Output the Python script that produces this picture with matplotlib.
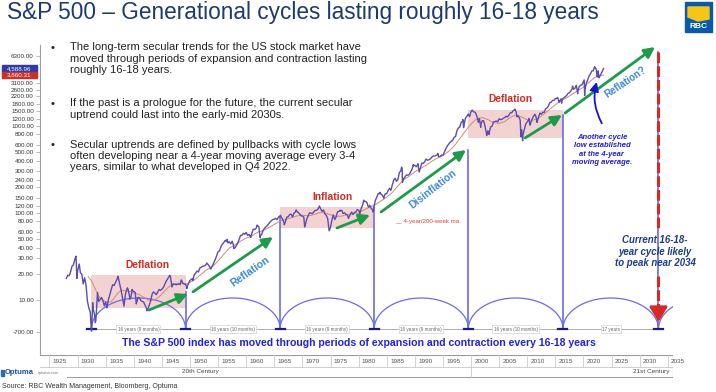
import numpy as np
import matplotlib
matplotlib.use("Agg")
import matplotlib.pyplot as plt
from matplotlib.patches import Rectangle, Polygon
from matplotlib.ticker import NullLocator
from matplotlib.transforms import blended_transform_factory

W, H = 716, 392
plt.rcParams["font.family"] = ["Liberation Sans", "DejaVu Sans"]

# ---- values ----------------------------------------------------------------
SPX_FIRST_YEAR = 1928
# S&P 500 quarter-end closes, one row per year (1928 .. 2022)
spx_quarter_close = [
    [19.3, 19.0, 21.0, 24.4], [25.3, 29.2, 28.5, 21.5], [25.1, 20.5, 19.8, 15.3],
    [18.0, 14.8, 9.7, 8.1], [7.3, 4.4, 8.0, 6.9], [5.8, 10.9, 9.6, 10.1],
    [10.7, 9.9, 8.6, 9.5], [8.5, 10.2, 11.6, 13.4], [15.0, 14.7, 16.0, 17.2],
    [18.1, 15.1, 12.9, 10.5], [8.5, 11.6, 13.2, 13.2], [10.9, 10.9, 13.0, 12.5],
    [12.2, 9.3, 10.7, 10.6], [9.9, 9.6, 9.5, 8.7], [8.0, 7.9, 8.7, 9.8],
    [11.6, 12.4, 12.0, 11.5], [12.3, 13.2, 12.9, 13.3], [13.9, 15.1, 16.4, 17.4],
    [18.5, 18.7, 14.9, 15.3], [15.2, 15.0, 15.1, 15.3], [15.0, 16.8, 15.5, 15.2],
    [15.1, 14.2, 15.6, 16.8], [17.3, 17.7, 19.5, 20.4], [21.5, 21.0, 23.3, 23.8],
    [24.4, 24.6, 25.0, 26.6], [25.3, 24.1, 23.4, 24.8], [26.9, 29.2, 32.3, 36.0],
    [36.6, 41.0, 43.7, 45.5], [48.5, 46.9, 45.3, 46.7], [44.1, 47.4, 42.4, 39.9],
    [42.1, 45.2, 50.1, 55.2], [55.4, 58.5, 56.9, 59.9], [55.3, 56.9, 53.5, 58.1],
    [65.1, 64.6, 66.7, 71.6], [69.6, 54.8, 56.3, 63.1], [66.6, 69.4, 71.7, 75.0],
    [78.9, 81.7, 84.2, 84.8], [86.8, 84.1, 89.9, 92.4], [89.2, 84.7, 76.6, 80.3],
    [90.2, 90.6, 96.7, 96.5], [90.2, 99.6, 102.7, 103.9], [101.5, 97.7, 93.1, 92.1],
    [89.6, 72.7, 84.2, 92.2], [100.3, 99.7, 98.3, 102.1], [107.2, 107.1, 110.6, 118.1],
    [111.5, 104.3, 108.4, 97.6], [94.0, 86.0, 63.5, 68.6], [83.4, 95.2, 83.9, 90.2],
    [102.8, 104.3, 105.2, 107.5], [98.4, 100.5, 96.5, 95.1], [89.2, 95.5, 102.5, 96.1],
    [101.6, 102.9, 109.3, 107.9], [102.1, 114.2, 125.5, 135.8], [136.0, 131.2, 116.2, 122.6],
    [112.0, 109.6, 120.4, 140.6], [153.0, 168.1, 166.1, 164.9], [159.2, 153.2, 166.1, 167.2],
    [180.7, 191.9, 182.1, 211.3], [238.9, 250.8, 231.3, 242.2], [291.7, 304.0, 321.8, 247.1],
    [258.9, 273.5, 271.9, 277.7], [294.9, 318.0, 349.2, 353.4], [339.9, 358.0, 306.1, 330.2],
    [375.2, 371.2, 387.9, 417.1], [403.7, 408.1, 417.8, 435.7], [451.7, 450.5, 458.9, 466.5],
    [445.8, 444.3, 462.7, 459.3], [500.7, 544.8, 584.4, 615.9], [645.5, 670.6, 687.3, 740.7],
    [757.1, 885.1, 947.3, 970.4], [1101.8, 1133.8, 1017.0, 1229.2], [1286.4, 1372.7, 1282.7, 1469.3],
    [1498.6, 1454.6, 1436.5, 1320.3], [1160.3, 1224.4, 1040.9, 1148.1], [1147.4, 989.8, 815.3, 879.8],
    [848.2, 974.5, 996.0, 1111.9], [1126.2, 1140.8, 1114.6, 1211.9], [1180.6, 1191.3, 1228.8, 1248.3],
    [1294.8, 1270.2, 1335.9, 1418.3], [1420.9, 1503.4, 1526.8, 1468.4], [1322.7, 1280.0, 1166.4, 903.3],
    [797.9, 919.3, 1057.1, 1115.1], [1169.4, 1030.7, 1141.2, 1257.6], [1325.8, 1320.6, 1131.4, 1257.6],
    [1408.5, 1362.2, 1440.7, 1426.2], [1569.2, 1606.3, 1681.6, 1848.4], [1872.3, 1960.2, 1972.3, 2058.9],
    [2067.9, 2063.1, 1920.0, 2043.9], [2059.7, 2098.9, 2168.3, 2238.8], [2362.7, 2423.4, 2519.4, 2673.6],
    [2640.9, 2718.4, 2914.0, 2506.9], [2834.4, 2941.8, 2976.7, 3230.8], [2584.6, 3100.3, 3363.0, 3756.1],
    [3972.9, 4297.5, 4307.5, 4766.2], [4530.4, 3785.4, 3585.6, 3839.5],
]
spx_2023_close = [4109.3, 4450.4]

# intra-quarter highs / lows
turn_year = [1928.0, 1929.70, 1929.87, 1930.29, 1932.45, 1932.68, 1933.15, 1933.54, 1935.21,
             1937.18, 1938.25, 1938.86, 1939.30, 1939.70, 1940.45, 1942.32, 1946.40, 1946.80,
             1948.45, 1949.45, 1950.50, 1953.70, 1956.60, 1957.80, 1960.80, 1961.95, 1962.48,
             1966.10, 1966.78, 1968.90, 1970.40, 1973.02, 1974.76, 1976.70, 1978.20, 1980.22,
             1980.90, 1982.60, 1983.80, 1984.50, 1987.65, 1987.80, 1989.75, 1990.55, 1990.78,
             1994.10, 1998.55, 1998.68, 2000.22, 2001.30, 2001.72, 2002.78, 2003.20, 2007.78,
             2008.20, 2008.88, 2009.18, 2010.30, 2010.50, 2011.33, 2011.75, 2015.38, 2015.65,
             2016.12, 2018.07, 2018.73, 2018.98, 2020.14, 2020.22, 2022.00, 2022.45, 2022.62,
             2022.78, 2023.58]
turn_value = [17.7, 31.9, 17.7, 25.9, 4.4, 9.3, 5.5, 12.2, 8.1,
              18.7, 8.5, 13.8, 10.2, 13.2, 9.0, 7.5, 19.25, 14.1,
              17.0, 13.55, 16.7, 22.7, 49.7, 39.0, 52.3, 72.6, 52.3,
              94.1, 73.2, 108.4, 69.3, 120.2, 62.3, 107.8, 86.9, 98.2,
              140.5, 102.4, 172.7, 147.8, 336.8, 224.8, 359.8, 368.9, 295.5,
              482.0, 1186.0, 957.0, 1527.0, 1103.0, 965.0, 776.0, 800.0, 1565.0,
              1273.0, 752.0, 676.0, 1217.0, 1022.0, 1363.0, 1099.0, 2130.0, 1867.0,
              1829.0, 2873.0, 2930.0, 2351.0, 3386.0, 2237.0, 4796.0, 3667.0, 4305.0,
              3577.0, 4588.96]

# 4-year / 200-week moving average
ma_year = [1931.9, 1932.5, 1933.0, 1933.5, 1934.0, 1934.5, 1935.0, 1935.5, 1936.0, 1936.5,
           1937.0, 1937.5, 1938.0, 1938.5, 1939.0, 1939.5, 1940.0, 1940.5, 1941.0, 1941.5,
           1942.0, 1942.5, 1943.0, 1943.5, 1944.0, 1944.5, 1945.0, 1945.5, 1946.0, 1946.5,
           1947.0, 1947.5, 1948.0, 1948.5, 1949.0, 1949.5, 1950, 1951, 1952, 1953, 1954,
           1955, 1956, 1957, 1958, 1959, 1960, 1961, 1962, 1963, 1964, 1965, 1966, 1967,
           1968, 1969, 1970, 1971, 1972, 1973, 1974, 1975, 1976, 1977, 1978, 1979, 1980,
           1981, 1982, 1983, 1984, 1985, 1986, 1987, 1988, 1989, 1990, 1991, 1992, 1993,
           1994, 1995, 1996, 1997, 1998, 1999, 2000, 2001, 2002, 2003, 2004, 2005, 2006,
           2007, 2008, 2009, 2010, 2011, 2012, 2013, 2014, 2015, 2016, 2017, 2018, 2019,
           2020, 2021, 2022, 2023, 2023.58]
ma_value = [18.5, 16.5, 14.0, 12.0, 10.5, 9.9, 9.6, 9.4, 9.6, 10.5,
            11.6, 12.6, 12.9, 12.7, 12.6, 12.5, 12.0, 11.8, 11.5, 11.0,
            10.6, 10.0, 9.9, 10.0, 10.3, 10.9, 11.7, 12.7, 13.7, 14.6,
            15.1, 15.4, 15.6, 15.6, 15.5, 15.4, 15.9, 17.5, 19.8, 22.3, 24.2,
            28.0, 33.5, 39.5, 43.0, 47.5, 51.5, 54.5, 60.0, 62.5, 68.0, 74.0, 80.5, 84.5,
            88.0, 92.5, 94.5, 92.5, 95.5, 100.5, 101.0, 95.0, 91.5, 92.0, 96.0, 98.0, 100.0,
            109.0, 117.0, 125.0, 138.0, 152.0, 172.0, 205.0, 240.0, 265.0, 298.0, 324.0, 354.0, 393.0,
            428.0, 458.0, 510.0, 588.0, 715.0, 875.0, 1055.0, 1205.0, 1250.0, 1185.0, 1095.0, 1070.0, 1125.0,
            1255.0, 1340.0, 1265.0, 1180.0, 1165.0, 1225.0, 1375.0, 1555.0, 1755.0, 1955.0, 2110.0, 2320.0, 2545.0,
            2790.0, 3180.0, 3620.0, 3790.0, 3860.31]

cycle_year = [1932.45, 1949.2, 1966.03, 1982.78, 1999.53, 2016.36, 2033.36]
cycle_top = [4.6, 12.4, 90, 117, 530, 1340, 7090]
cycle_label = ["16 years (9 months)", "16 years (10 months)", "16 years (9 months)",
               "16 years (9 months)", "16 years (10 months)", "17 years"]
box_low = [8.1, 67.3, 728]
box_high = [19.4, 117, 1528]

ytick_values = [4.34, 10, 20, 30, 40, 50, 60, 80, 100, 120, 150, 200, 240, 300, 400, 500,
                600, 800, 1000, 1200, 1500, 1800, 2200, 2600, 3100, 6300]
ytick_labels = ["-700.00"] + [f"{v:.2f}" for v in ytick_values[1:]]
year_ticks = list(range(1925, 2036, 5))
last_close, last_ma = 4588.96, 3860.31

C_SPX, C_MA, C_CYC = "#5a4db0", "#d08a78", "#6b6be8"
C_GREEN, C_LBLUE, C_RED = "#1e9a4a", "#3d8ad6", "#d42a22"

# ---- build series ------------------------------------------------------------
qv = np.array(spx_quarter_close).ravel()
qt = SPX_FIRST_YEAR + (np.arange(qv.size) + 1) / 4
t = np.concatenate([qt, 2023 + np.array([0.25, 0.5]), turn_year])
v = np.concatenate([qv, spx_2023_close, turn_value])
order = np.argsort(t)
t, v = t[order], v[order]


def fx(x):
    return x / W


def fy(y):
    return 1 - y / H


fig = plt.figure(figsize=(W / 100, H / 100), dpi=100)
ax = fig.add_axes([fx(40), fy(355), 633 / W, 310 / H])
ax.set_yscale("log")
ax.set_xlim(1923.31, 2035.94)
ax.set_ylim(2.332, 8531)
for s in ("top", "right", "bottom"):
    ax.spines[s].set_visible(False)
ax.spines["left"].set_color("#a0a0a0")
ax.spines["left"].set_linewidth(0.8)
ax.set_xticks([])
ax.yaxis.set_minor_locator(NullLocator())
ax.set_yticks(ytick_values)
ax.set_yticklabels(ytick_labels)
ax.tick_params(axis="y", labelsize=4.5, labelcolor="#333333", color="#a0a0a0",
               length=3, width=0.5, pad=1.5)

# pink phase boxes
for i, (lo, hi) in enumerate(zip(box_low, box_high)):
    x0, x1 = cycle_year[2 * i], cycle_year[2 * i + 1]
    ax.add_patch(Rectangle((x0, lo), x1 - x0, hi - lo, facecolor="#f3d2d2",
                           edgecolor="none", zorder=1))

# cycle lines, arcs and labels
tb = blended_transform_factory(ax.transData, ax.transAxes)
base_f, top_f = (355 - 329) / 310, (355 - 298) / 310
theta = np.linspace(0, np.pi, 80)
for i, c in enumerate(cycle_year):
    ax.plot([c, c], [4.64, cycle_top[i]], color=C_CYC, lw=1.2, zorder=2)
    nxt = cycle_year[i + 1] if i + 1 < len(cycle_year) else c + 16.75
    mid, half = (c + nxt) / 2, (nxt - c) / 2
    ax.plot(mid - half * np.cos(theta), base_f + (top_f - base_f) * np.sin(theta),
            color=C_CYC, lw=0.9, transform=tb, zorder=2)
    ax.plot([c - 0.8, c + 0.8], [base_f, base_f], color="#1a1a8c", lw=1.6,
            transform=tb, zorder=4)
    if i < len(cycle_label):
        ax.plot([c + 0.8, nxt - 0.8], [base_f, base_f], color="#b0b0b0", lw=0.7,
                transform=tb, zorder=3)
        ax.text(mid, base_f, cycle_label[i], transform=tb, ha="center", va="center",
                fontsize=3.3, color="#666666", zorder=5,
                bbox=dict(boxstyle="square,pad=0.25", fc="white", ec="#c8c8c8", lw=0.4))

# series
ax.plot(ma_year, ma_value, color=C_MA, lw=0.7, zorder=3)
ax.plot(t, v, color=C_SPX, lw=1.0, zorder=4)

# green trend arrows
for (x0, y0), (x1, y1) in [((1942.70, 7.67), (1949.64, 11.7)),
                           ((1950.53, 12.4), (1964.77, 53.0)),
                           ((1976.16, 67.3), (1982.03, 94.8)),
                           ((1983.99, 102.7), (1999.11, 530.0)),
                           ((2009.61, 728.0), (2016.19, 1337.0)),
                           ((2016.73, 1410.0), (2032.74, 8090.0))]:
    ax.annotate("", xy=(x1, y1), xytext=(x0, y0), zorder=6,
                arrowprops=dict(arrowstyle="-|>,head_length=0.7,head_width=0.35",
                                color=C_GREEN, lw=2.0, mutation_scale=9,
                                shrinkA=0, shrinkB=0))

# red dashed forecast line
xr = cycle_year[-1]
ax.plot([xr, xr], [7091, 67.3], color=C_RED, lw=2.2, dashes=(3.5, 1.0), zorder=6)
ax.plot([xr, xr], [18.9, 7.2], color=C_RED, lw=2.2, dashes=(3.5, 1.0), zorder=6)
ax.annotate("", xy=(xr, 5.6), xytext=(xr, 8.0), zorder=6,
            arrowprops=dict(arrowstyle="-|>,head_length=0.9,head_width=0.55",
                            color=C_RED, lw=2.0, mutation_scale=10, shrinkA=0, shrinkB=0))

# blue curved arrow
ax.annotate("", xy=(2022.37, 3205), xytext=(2023.28, 1074), zorder=6,
            arrowprops=dict(arrowstyle="-|>,head_length=0.6,head_width=0.3",
                            color="#1515c8", lw=1.3, mutation_scale=9,
                            connectionstyle="arc3,rad=-0.2", shrinkA=0, shrinkB=0))

# phase labels
bold = dict(fontweight="bold", ha="center", va="center", zorder=7)
ax.text(1942.35, 25.3, "Deflation", color=C_RED, fontsize=7.4, **bold)
ax.text(1975.44, 152.7, "Inflation", color=C_RED, fontsize=7.4, **bold)
ax.text(2006.94, 2044, "Deflation", color=C_RED, fontsize=7.4, **bold)
ax.text(1960.73, 21.2, "Reflation", color=C_LBLUE, fontsize=7.6, rotation=35,
        rotation_mode="anchor", **bold)
ax.text(1993.19, 187.3, "Disinflation", color=C_LBLUE, fontsize=7.5, rotation=38,
        rotation_mode="anchor", **bold)
ax.text(2027.45, 3231, "Reflation?", color=C_LBLUE, fontsize=7.0, rotation=34,
        rotation_mode="anchor", **bold)
ax.text(1986.47, 80.9, "__ 4-year/200-week ma.", color="#e0403a", fontsize=4.4,
        ha="left", va="center", zorder=7)
ax.text(2023.28, 530, "Another cycle\nlow established\nat the 4-year\nmoving average.",
        color="#1f1fd0", fontsize=5.5, fontweight="bold", style="italic",
        ha="center", va="center", linespacing=1.3, zorder=7)
ax.text(2032.74, 35.9, "Current 16-18-\nyear cycle likely\nto peak near 2034",
        color="#1e3a8a", fontsize=6.9, fontweight="bold", style="italic",
        ha="center", va="center", linespacing=1.2, zorder=7, clip_on=False)

# last-value tags on the price axis
for val, col in ((last_close, "#2f3aa8"), (last_ma, "#c8302a")):
    yp = 387 - 87 * np.log10(val)
    fig.add_artist(Rectangle((fx(2), fy(yp + 3.2)), 35 / W, 6.4 / H,
                             transform=fig.transFigure, color=col, zorder=10))
    fig.text(fx(19.5), fy(yp), f"{val:,.2f}", color="white", fontsize=4.5,
             ha="center", va="center", zorder=11)

# bottom statement inside the chart
fig.text(fx(358.6), fy(343), "The S&P 500 index has moved through periods of expansion "
         "and contraction every 16-18 years", color="#2222dd", fontsize=7.6,
         fontweight="bold", ha="center", va="center")

# date strip
axd = fig.add_axes([fx(40), fy(378), 633 / W, 23 / H])
axd.set_xlim(ax.get_xlim())
axd.set_ylim(23, 0)
axd.axis("off")
x_lo, x_hi = ax.get_xlim()
axd.plot([x_lo, x_hi], [0, 0], color="#9a9a9a", lw=0.8)
axd.plot([x_lo, x_hi], [12, 12], color="#c8c8c8", lw=0.6)
for yr in year_ticks:
    axd.plot([yr, yr], [0, 12], color="#cccccc", lw=0.6)
    axd.text(yr + 0.6, 6.3, str(yr), fontsize=4.6, color="#555555", ha="left", va="center")
axd.plot([1928.1, x_hi], [22, 22], color="#9a9a9a", lw=0.7)
axd.plot([2000, 2000], [12, 22], color="#c8c8c8", lw=0.6)
axd.plot([x_hi, x_hi], [12, 22], color="#555555", lw=0.8)
axd.text(1951.8, 17, "20th Century", fontsize=4.6, color="#444444", ha="center", va="center")
axd.text(2035.4, 17, "21st Century", fontsize=4.6, color="#444444", ha="right", va="center")

# title, bullets, source, logos
fig.text(fx(7), fy(12), "S&P 500 \u2013 Generational cycles lasting roughly 16-18 years",
         color="#1c3a70", fontsize=16.3, ha="left", va="center")
bullets = [
    (48, "The long-term secular trends for the US stock market have\n"
         "moved through periods of expansion and contraction lasting\nroughly 16-18 years."),
    (104, "If the past is a prologue for the future, the current secular\n"
          "uptrend could last into the early-mid 2030s."),
    (145, "Secular uptrends are defined by pullbacks with cycle lows\n"
          "often developing near a 4-year moving average every 3-4\n"
          "years, similar to what developed in Q4 2022."),
]
for yb, txt in bullets:
    fig.text(fx(51), fy(yb), "\u2022", fontsize=8, color="#222222", ha="left", va="center")
    fig.text(fx(70), fy(yb - 5.5), txt, fontsize=8, color="#222222", ha="left", va="top",
             linespacing=1.17)

fig.text(fx(2), fy(387), "Source: RBC Wealth Management, Bloomberg, Optuma",
         fontsize=5, color="#333333", ha="left", va="center")
fig.add_artist(Rectangle((fx(1), fy(376)), 3 / W, 6 / H, transform=fig.transFigure,
                         color="#2a6bb8"))
fig.text(fx(5), fy(373), "Optuma", fontsize=5.5, color="#1d4f91", fontweight="bold",
         ha="left", va="center")
fig.text(fx(38), fy(373), "optuma.com", fontsize=2.8, color="#777777", ha="left", va="center")

fig.add_artist(Rectangle((fx(685), fy(32)), 27 / W, 30 / H, transform=fig.transFigure,
                         color="#0b5aa8"))
fig.add_artist(Polygon([(fx(688), fy(7)), (fx(709), fy(7)), (fx(709), fy(19)),
                        (fx(698), fy(21)), (fx(688), fy(17))],
                       closed=True, transform=fig.transFigure, color="#f5c518"))
fig.text(fx(698.5), fy(26.5), "RBC", fontsize=6, color="white", fontweight="bold",
         ha="center", va="center")

fig.savefig("out.png", dpi=100, facecolor="white")
